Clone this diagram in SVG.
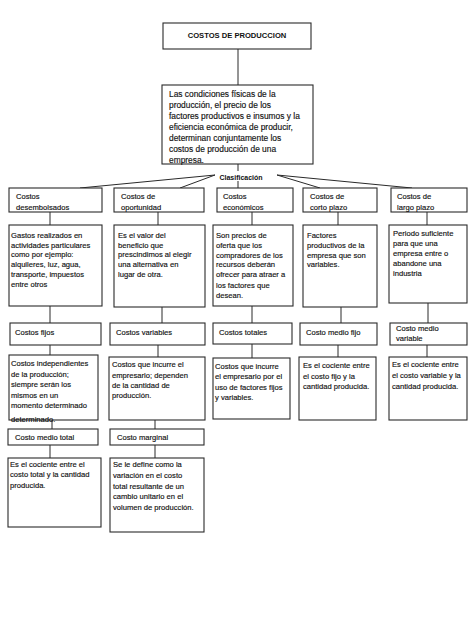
<svg xmlns="http://www.w3.org/2000/svg" width="474" height="632" viewBox="0 0 474 632">
<style>
rect.b{fill:#fff;stroke:#2a2a2a;stroke-width:1.1}
text{font-family:"Liberation Sans",Arial,sans-serif;font-size:7.6px;fill:#111;stroke:#111;stroke-width:0.15}
.t{font-weight:bold;font-size:7.6px;stroke-width:0}
.m{font-size:8.4px}
.c line{stroke:#2a2a2a;stroke-width:1}
</style>
<rect width="474" height="632" fill="#fff"/>
<g class="c" id="connectors">
<line x1="238" y1="49" x2="238" y2="85"/>
<line x1="238" y1="164" x2="238" y2="171"/>
<line x1="238" y1="181" x2="238" y2="188"/>
<line x1="215" y1="175" x2="80" y2="188"/>
<line x1="215" y1="175" x2="180" y2="188"/>
<line x1="277" y1="175" x2="320" y2="188"/>
<line x1="277" y1="175" x2="412" y2="188"/>
<line x1="50" y1="212" x2="50" y2="225"/>
<line x1="158" y1="212" x2="158" y2="225"/>
<line x1="252" y1="212" x2="252" y2="225"/>
<line x1="338" y1="212" x2="338" y2="225"/>
<line x1="427" y1="212" x2="427" y2="225"/>
<line x1="50" y1="306" x2="50" y2="323"/>
<line x1="162" y1="307" x2="162" y2="323"/>
<line x1="252" y1="306" x2="252" y2="323"/>
<line x1="341" y1="307" x2="341" y2="323"/>
<line x1="428" y1="303" x2="428" y2="323"/>
<line x1="50" y1="345" x2="50" y2="355"/>
<line x1="158" y1="345" x2="158" y2="357"/>
<line x1="252" y1="344" x2="252" y2="358"/>
<line x1="338" y1="345" x2="338" y2="357"/>
<line x1="427" y1="345" x2="427" y2="357"/>
<line x1="52" y1="420" x2="52" y2="429"/>
<line x1="155" y1="420" x2="155" y2="429"/>
<line x1="50" y1="445" x2="50" y2="458"/>
<line x1="155" y1="445" x2="155" y2="458"/>
</g>
<g id="title"><rect class="b" x="163" y="23" width="148" height="26"/><text class="t" x="237" y="38" text-anchor="middle">COSTOS DE PRODUCCION</text></g>
<g id="intro"><rect class="b" x="162" y="85" width="151" height="79"/>
<text class="m" x="169" y="97">Las condiciones físicas de la</text>
<text class="m" x="169" y="108">producción, el precio de los</text>
<text class="m" x="169" y="119">factores productivos e insumos y la</text>
<text class="m" x="169" y="130">eficiencia económica de producir,</text>
<text class="m" x="169" y="141">determinan conjuntamente los</text>
<text class="m" x="169" y="152">costos de producción de una</text>
<text class="m" x="169" y="162.5">empresa.</text></g>
<g id="clasificacion"><text class="t" x="241" y="180" text-anchor="middle" style="font-size:7px">Clasificación</text></g>
<g id="n1"><rect class="b" x="9" y="188" width="93" height="24"/><text x="16" y="199">Costos</text><text x="16" y="209.5">desembolsados</text></g>
<g id="n2"><rect class="b" x="114" y="188" width="90" height="24"/><text x="121" y="199">Costos de</text><text x="121" y="209.5">oportunidad</text></g>
<g id="n3"><rect class="b" x="217" y="188" width="76" height="24"/><text x="223" y="199">Costos</text><text x="223" y="209.5">económicos</text></g>
<g id="n4"><rect class="b" x="303" y="188" width="74" height="24"/><text x="310" y="199">Costos de</text><text x="310" y="209.5">corto plazo</text></g>
<g id="n5"><rect class="b" x="391" y="188" width="76" height="24"/><text x="397" y="199">Costos de</text><text x="397" y="209.5">largo plazo</text></g>
<g id="d1"><rect class="b" x="9" y="225" width="93" height="81"/>
<text x="11" y="238">Gastos realizados en</text><text x="11" y="248">actividades particulares</text><text x="11" y="257">como por ejemplo:</text><text x="11" y="267">alquileres, luz, agua,</text><text x="11" y="277">transporte, impuestos</text><text x="11" y="287">entre otros</text></g>
<g id="d2"><rect class="b" x="114" y="225" width="91" height="82"/>
<text x="118" y="238">Es el valor del</text><text x="118" y="248">beneficio que</text><text x="118" y="257">prescindimos al elegir</text><text x="118" y="267">una alternativa en</text><text x="118" y="277">lugar de otra.</text></g>
<g id="d3"><rect class="b" x="213" y="225" width="80" height="81"/>
<text x="216" y="238">Son precios de</text><text x="216" y="248">oferta que los</text><text x="216" y="258">compradores de los</text><text x="216" y="267">recursos deberán</text><text x="216" y="277">ofrecer para atraer a</text><text x="216" y="288">los factores que</text><text x="216" y="298">desean.</text></g>
<g id="d4"><rect class="b" x="303" y="225" width="74" height="82"/>
<text x="307" y="238">Factores</text><text x="307" y="248">productivos de la</text><text x="307" y="258">empresa que son</text><text x="307" y="267">variables.</text></g>
<g id="d5"><rect class="b" x="389" y="225" width="78" height="78"/>
<text x="393" y="236">Periodo suficiente</text><text x="393" y="246">para que una</text><text x="393" y="256">empresa entre o</text><text x="393" y="266">abandone una</text><text x="393" y="276">industria</text></g>
<g id="f1"><rect class="b" x="10" y="323" width="91" height="22"/><text x="15" y="335">Costos fijos</text></g>
<g id="f2"><rect class="b" x="110" y="323" width="95" height="22"/><text x="116" y="335">Costos variables</text></g>
<g id="f3"><rect class="b" x="213" y="323" width="79" height="21"/><text x="219" y="335">Costos totales</text></g>
<g id="f4"><rect class="b" x="300" y="323" width="77" height="22"/><text x="306" y="335">Costo medio fijo</text></g>
<g id="f5"><rect class="b" x="390" y="323" width="77" height="22"/><text x="396" y="331">Costo medio</text><text x="396" y="341">variable</text></g>
<g id="g1"><rect class="b" x="9" y="355" width="89" height="65"/>
<text x="11" y="366">Costos independientes</text><text x="11" y="377">de la producción;</text><text x="11" y="387">siempre serán los</text><text x="11" y="398">mismos en un</text><text x="11" y="408">momento determinado</text><text x="11" y="422">determinado.</text></g>
<g id="g2"><rect class="b" x="109" y="357" width="96" height="63"/>
<text x="112" y="367">Costos que incurre el</text><text x="112" y="378">empresario; dependen</text><text x="112" y="388">de la cantidad de</text><text x="112" y="398">producción.</text></g>
<g id="g3"><rect class="b" x="213" y="358" width="77" height="61"/>
<text x="215" y="369">Costos que incurre</text><text x="215" y="379">el empresario por el</text><text x="215" y="390">uso de factores fijos</text><text x="215" y="400">y variables.</text></g>
<g id="g4"><rect class="b" x="299" y="357" width="77" height="63"/>
<text x="303" y="368">Es el cociente entre</text><text x="303" y="379">el costo fijo y la</text><text x="303" y="389">cantidad producida.</text></g>
<g id="g5"><rect class="b" x="389" y="357" width="78" height="63"/>
<text x="392" y="367">Es el cociente entre</text><text x="392" y="378">el costo variable y la</text><text x="392" y="389">cantidad producida.</text></g>
<g id="h1"><rect class="b" x="8" y="429" width="90" height="16"/><text x="15" y="440">Costo medio total</text></g>
<g id="h2"><rect class="b" x="110" y="429" width="94" height="16"/><text x="117" y="440">Costo marginal</text></g>
<g id="i1"><rect class="b" x="8" y="458" width="93" height="69"/>
<text x="10" y="467">Es el cociente entre el</text><text x="10" y="477">costo total y la cantidad</text><text x="10" y="488">producida.</text></g>
<g id="i2"><rect class="b" x="110" y="458" width="94" height="74"/>
<text x="113" y="467">Se le define como la</text><text x="113" y="478">variación en el costo</text><text x="113" y="489">total resultante de un</text><text x="113" y="499">cambio unitario en el</text><text x="113" y="510">volumen de producción.</text></g>
</svg>
